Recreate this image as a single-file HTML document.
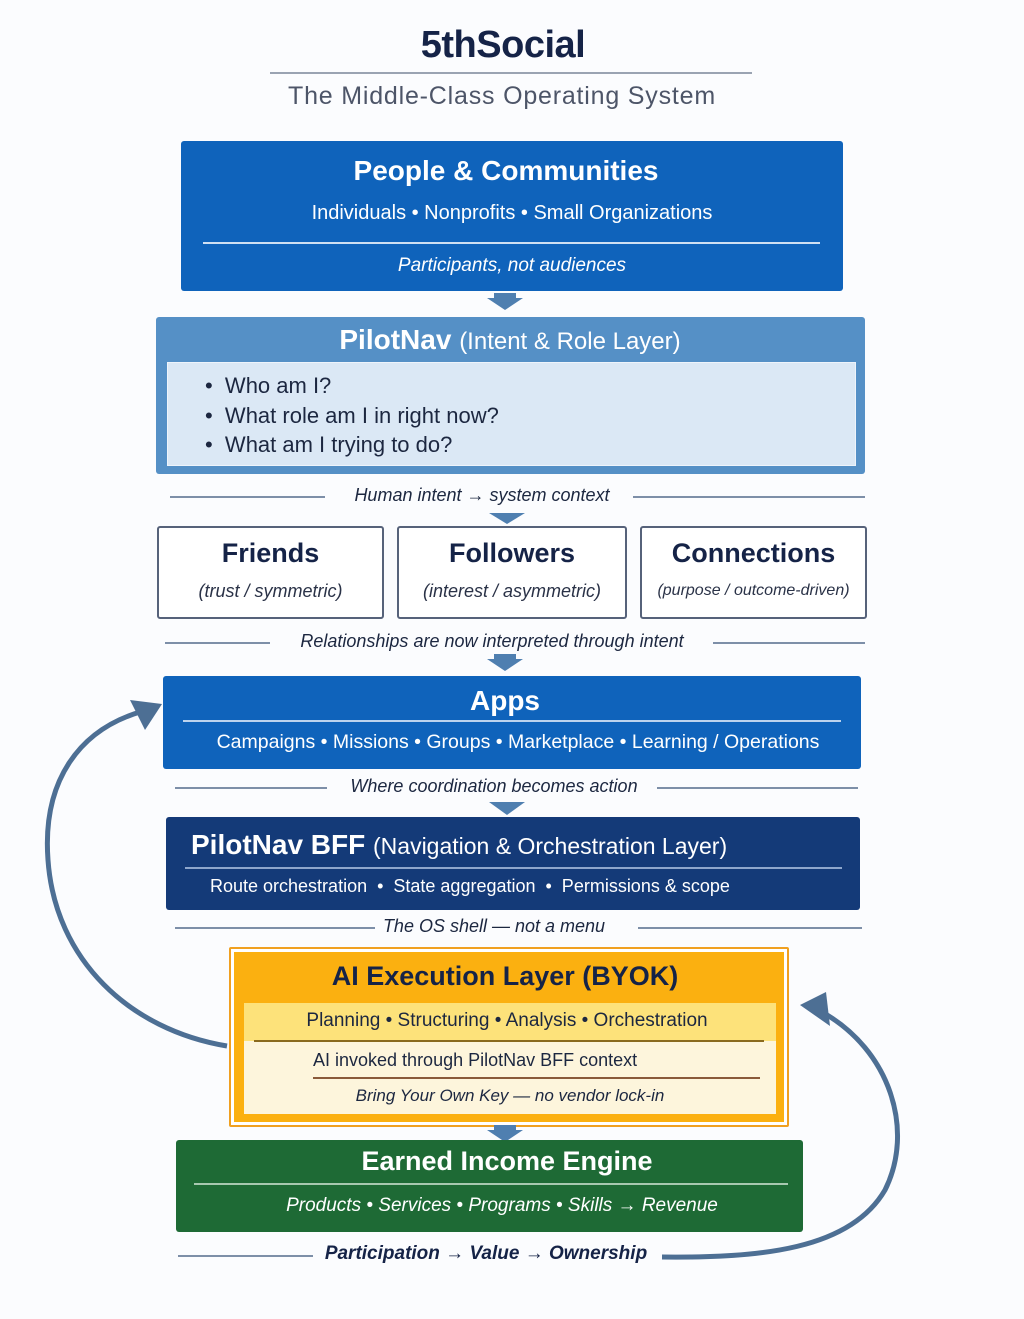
<!DOCTYPE html>
<html><head><meta charset="utf-8"><style>
*{margin:0;padding:0;box-sizing:border-box}
body{width:1024px;height:1319px;background:#fbfcfe;position:relative;overflow:hidden;font-family:"Liberation Sans Narrow","Liberation Sans",sans-serif}
.a{position:absolute}
.t{position:absolute;left:0;width:1024px;text-align:center;white-space:nowrap}
.box{position:absolute;border-radius:3px}
.ln{position:absolute;height:1.5px}
.arr{position:absolute;width:0;height:0;border-left:18px solid transparent;border-right:18px solid transparent;border-top:12px solid #4f7fb0}
.stem{position:absolute;width:22px;background:#4f7fb0}
.sep{position:absolute;height:1.5px;background:#7d8fa8}
.it{font-style:italic}
</style></head><body>
<div class="t" style="top:24px;font-size:38px;font-weight:bold;color:#152347;letter-spacing:-0.5px;left:-9px">5thSocial</div>
<div class="ln" style="left:270px;top:72px;width:482px;background:#9aa3b2"></div>
<div class="t" style="top:82px;font-size:25px;color:#4d5568;letter-spacing:0.8px;left:-10px">The Middle-Class Operating System</div>

<!-- Box1 -->
<div class="box" style="left:181px;top:141px;width:662px;height:150px;background:#0f63bb"></div>
<div class="t" style="top:155px;font-size:28px;font-weight:bold;color:#fff;left:-6px">People &amp; Communities</div>
<div class="t" style="top:202px;font-size:20px;color:#fff">Individuals • Nonprofits • Small Organizations</div>
<div class="ln" style="left:203px;top:242px;width:617px;background:#cfe0f3"></div>
<div class="t it" style="top:255px;font-size:19px;color:#fff">Participants, not audiences</div>
<div class="stem" style="left:494px;top:293px;height:6px"></div>
<div class="arr" style="left:487px;top:298px"></div>

<!-- Box2 -->
<div class="box" style="left:156px;top:317px;width:709px;height:157px;background:#5590c6"></div>
<div class="t" style="top:324px;font-size:28px;color:#fff;left:-2px"><b>PilotNav</b> <span style="font-size:24px">(Intent &amp; Role Layer)</span></div>
<div class="a" style="left:167px;top:362px;width:689px;height:104px;background:#dbe8f5;border:1px solid #eef4fb"></div>
<div class="a" style="left:205px;top:371px;font-size:22px;color:#1c2740;line-height:29.5px;white-space:nowrap">
• &nbsp;Who am I?<br>• &nbsp;What role am I in right now?<br>• &nbsp;What am I trying to do?</div>

<div class="sep" style="left:170px;top:496px;width:155px"></div>
<div class="sep" style="left:633px;top:496px;width:232px"></div>
<div class="t it" style="top:485px;font-size:18px;color:#1c2740;left:-30px">Human intent → system context</div>
<div class="arr" style="left:489px;top:513px;border-top-width:11px"></div>

<!-- three boxes -->
<div class="box" style="left:157px;top:526px;width:227px;height:93px;border:2px solid #56627a;background:#fff"></div>
<div class="box" style="left:397px;top:526px;width:230px;height:93px;border:2px solid #56627a;background:#fff"></div>
<div class="box" style="left:640px;top:526px;width:227px;height:93px;border:2px solid #56627a;background:#fff"></div>
<div class="a" style="left:157px;width:227px;top:538px;text-align:center;font-size:27px;font-weight:bold;color:#152347">Friends</div>
<div class="a" style="left:397px;width:230px;top:538px;text-align:center;font-size:27px;font-weight:bold;color:#152347">Followers</div>
<div class="a" style="left:640px;width:227px;top:538px;text-align:center;font-size:27px;font-weight:bold;color:#152347">Connections</div>
<div class="a it" style="left:157px;width:227px;top:581px;text-align:center;font-size:18px;color:#2a3247">(trust / symmetric)</div>
<div class="a it" style="left:397px;width:230px;top:581px;text-align:center;font-size:18px;color:#2a3247">(interest / asymmetric)</div>
<div class="a it" style="left:640px;width:227px;top:582px;text-align:center;font-size:16px;color:#2a3247;white-space:nowrap">(purpose / outcome-driven)</div>

<div class="sep" style="left:165px;top:642px;width:105px"></div>
<div class="sep" style="left:713px;top:642px;width:152px"></div>
<div class="t it" style="top:631px;font-size:18px;color:#1c2740;left:-20px">Relationships are now interpreted through intent</div>
<div class="stem" style="left:494px;top:654px;height:6px"></div>
<div class="arr" style="left:487px;top:659px"></div>

<!-- Apps -->
<div class="box" style="left:163px;top:676px;width:698px;height:93px;background:#0f63bb"></div>
<div class="t" style="top:685px;font-size:28px;font-weight:bold;color:#fff;left:-7px">Apps</div>
<div class="ln" style="left:183px;top:720px;width:658px;background:#bcd3ee"></div>
<div class="t" style="top:731px;font-size:19.5px;color:#fff;left:6px">Campaigns • Missions • Groups • Marketplace • Learning / Operations</div>

<div class="sep" style="left:175px;top:787px;width:152px"></div>
<div class="sep" style="left:657px;top:787px;width:201px"></div>
<div class="t it" style="top:776px;font-size:18px;color:#1c2740;left:-18px">Where coordination becomes action</div>
<div class="arr" style="left:489px;top:802px;border-top-width:13px"></div>

<!-- BFF -->
<div class="box" style="left:166px;top:817px;width:694px;height:93px;background:#143a78"></div>
<div class="a" style="left:191px;top:829px;font-size:28px;color:#fff;white-space:nowrap"><b>PilotNav BFF</b> <span style="font-size:23px">(Navigation &amp; Orchestration Layer)</span></div>
<div class="ln" style="left:185px;top:867px;width:657px;background:#8ea6cc"></div>
<div class="a" style="left:210px;top:876px;font-size:18px;color:#fff;white-space:nowrap">Route orchestration &nbsp;• &nbsp;State aggregation &nbsp;• &nbsp;Permissions &amp; scope</div>

<div class="sep" style="left:175px;top:927px;width:200px"></div>
<div class="sep" style="left:638px;top:927px;width:224px"></div>
<div class="t it" style="top:916px;font-size:18px;color:#1c2740;left:-18px">The OS shell — not a menu</div>

<!-- AI box -->
<div class="box" style="left:229px;top:947px;width:560px;height:180px;border:2px solid #f0a020;background:#fff;border-radius:2px"></div>
<div class="a" style="left:234px;top:952px;width:550px;height:170px;background:#fbb010"></div>
<div class="t" style="top:961px;font-size:27px;font-weight:bold;color:#152347;left:-7px">AI Execution Layer (BYOK)</div>
<div class="a" style="left:244px;top:1003px;width:532px;height:111px;background:#fdf5dc"></div>
<div class="a" style="left:244px;top:1003px;width:532px;height:38px;background:#fde27a"></div>
<div class="ln" style="left:254px;top:1040px;width:510px;height:2px;background:#8a6a1e"></div>
<div class="t" style="top:1010px;font-size:19px;color:#1c2740;left:-5px">Planning • Structuring • Analysis • Orchestration</div>
<div class="a" style="left:313px;top:1050px;font-size:18px;color:#1c2740;white-space:nowrap">AI invoked through PilotNav BFF context</div>
<div class="ln" style="left:313px;top:1077px;width:447px;background:#8a5a3a"></div>
<div class="t it" style="top:1086px;font-size:17px;color:#1c2740;left:-2px">Bring Your Own Key — no vendor lock-in</div>
<div class="stem" style="left:494px;top:1125px;height:6px"></div>
<div class="arr" style="left:487px;top:1130px;border-top-color:#4f7fb0"></div>

<!-- Earned -->
<div class="box" style="left:176px;top:1140px;width:627px;height:92px;background:#1e6a35"></div>
<div class="t" style="top:1146px;font-size:27px;font-weight:bold;color:#fff;left:-5px">Earned Income Engine</div>
<div class="ln" style="left:194px;top:1183px;width:594px;background:#a8c8b0"></div>
<div class="t it" style="top:1195px;font-size:19px;color:#fff;left:-10px">Products • Services • Programs • Skills → Revenue</div>

<div class="sep" style="left:178px;top:1255px;width:135px"></div>
<div class="t it" style="top:1243px;font-size:19px;color:#152347;font-weight:bold;left:-26px">Participation → Value → Ownership</div>

<svg class="a" style="left:0;top:0" width="1024" height="1319">
<path d="M227,1046 C130,1030 55,960 48,860 C42,780 80,730 140,712" fill="none" stroke="#4d6f94" stroke-width="5"/>
<polygon points="162,704 130,700 145,730" fill="#4d6f94"/>
<path d="M662,1257 C760,1258 850,1250 885,1190 C915,1130 890,1050 822,1012" fill="none" stroke="#4d6f94" stroke-width="5"/>
<polygon points="800,1005 826,992 830,1026" fill="#4d6f94"/>
</svg>
</body></html>
